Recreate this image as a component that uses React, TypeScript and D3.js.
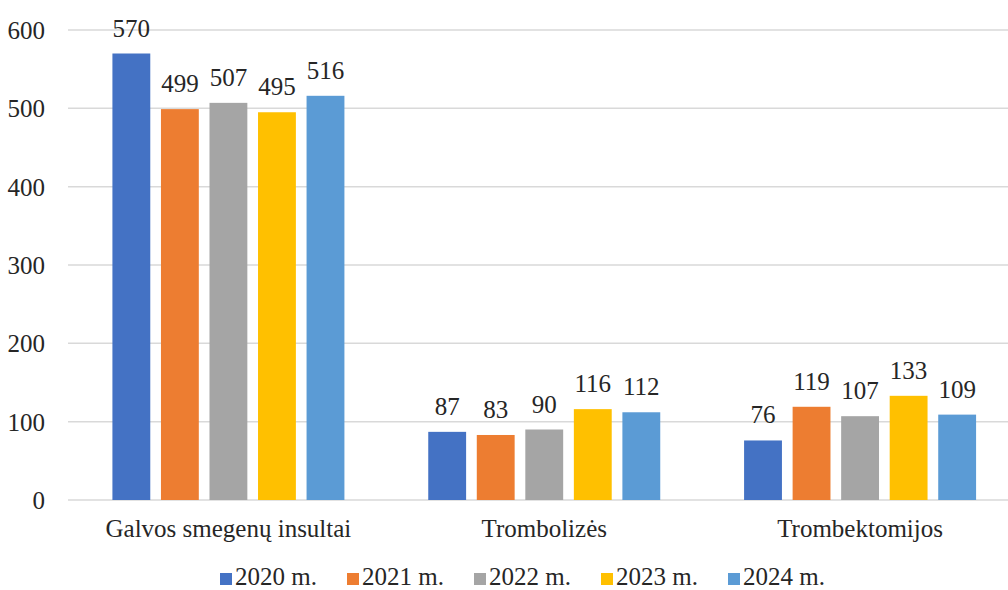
import React from "react";
import * as d3 from "d3";

const categories = ["Galvos smegenų insultai", "Trombolizės", "Trombektomijos"];
const seriesNames = ["2020 m.", "2021 m.", "2022 m.", "2023 m.", "2024 m."];
const seriesColors = ["#4472C4", "#ED7D31", "#A5A5A5", "#FFC000", "#5B9BD5"];
const values2020 = [570, 87, 76];
const values2021 = [499, 83, 119];
const values2022 = [507, 90, 107];
const values2023 = [495, 116, 133];
const values2024 = [516, 112, 109];
const seriesValues = [values2020, values2021, values2022, values2023, values2024];
const yTicks = [0, 100, 200, 300, 400, 500, 600];

const W = 1008;
const H = 590;
const FONT = '"Times New Roman", Times, Tinos, "Liberation Serif", "Noto Serif", "DejaVu Serif", Georgia, serif';
const TEXT = "#262626";
const txt: React.CSSProperties = { fontFamily: FONT, fontSize: "25px" };

export default function App() {
  const y = d3.scaleLinear().domain([0, 600]).range([500, 30]);
  const x0 = d3.scaleBand<string>().domain(categories).range([70.5, 1018]).padding(0);
  const bw = x0.bandwidth();
  const groupW = 232;
  const x1 = d3
    .scaleBand<string>()
    .domain(seriesNames)
    .range([bw / 2 - groupW / 2, bw / 2 + groupW / 2])
    .paddingInner(0.22)
    .paddingOuter(0);

  const legendX = d3.scaleLinear().domain([0, 4]).range([220, 728]);

  return (
    <div style={{ position: "fixed", left: 0, top: 0 }}>
      <svg width={W} height={H} style={{ display: "block", background: "#fff" }}>
        {yTicks.map((t) => (
          <g key={t}>
            <line x1={68} x2={W} y1={y(t)} y2={y(t)} stroke="#D9D9D9" strokeWidth={1.5} />
            <text x={45} y={y(t) + 9} textAnchor="end" style={txt} fill={TEXT}>
              {t}
            </text>
          </g>
        ))}
        {categories.map((c, ci) => (
          <g key={c} transform={`translate(${x0(c)},0)`}>
            {seriesNames.map((s, si) => {
              const v = seriesValues[si][ci];
              const bx = x1(s) as number;
              return (
                <g key={s}>
                  <rect x={bx} y={y(v)} width={x1.bandwidth()} height={y(0) - y(v)} fill={seriesColors[si]} />
                  <text x={bx + x1.bandwidth() / 2} y={y(v) - 17} textAnchor="middle" style={txt} fill={TEXT}>
                    {v}
                  </text>
                </g>
              );
            })}
            <text x={bw / 2} y={537} textAnchor="middle" style={txt} fill={TEXT}>
              {c}
            </text>
          </g>
        ))}
        {seriesNames.map((s, si) => (
          <g key={s} transform={`translate(${legendX(si)},0)`}>
            <rect x={0} y={573} width={12} height={12} fill={seriesColors[si]} />
            <text x={15} y={585} style={txt} fill={TEXT}>
              {s}
            </text>
          </g>
        ))}
      </svg>
    </div>
  );
}
